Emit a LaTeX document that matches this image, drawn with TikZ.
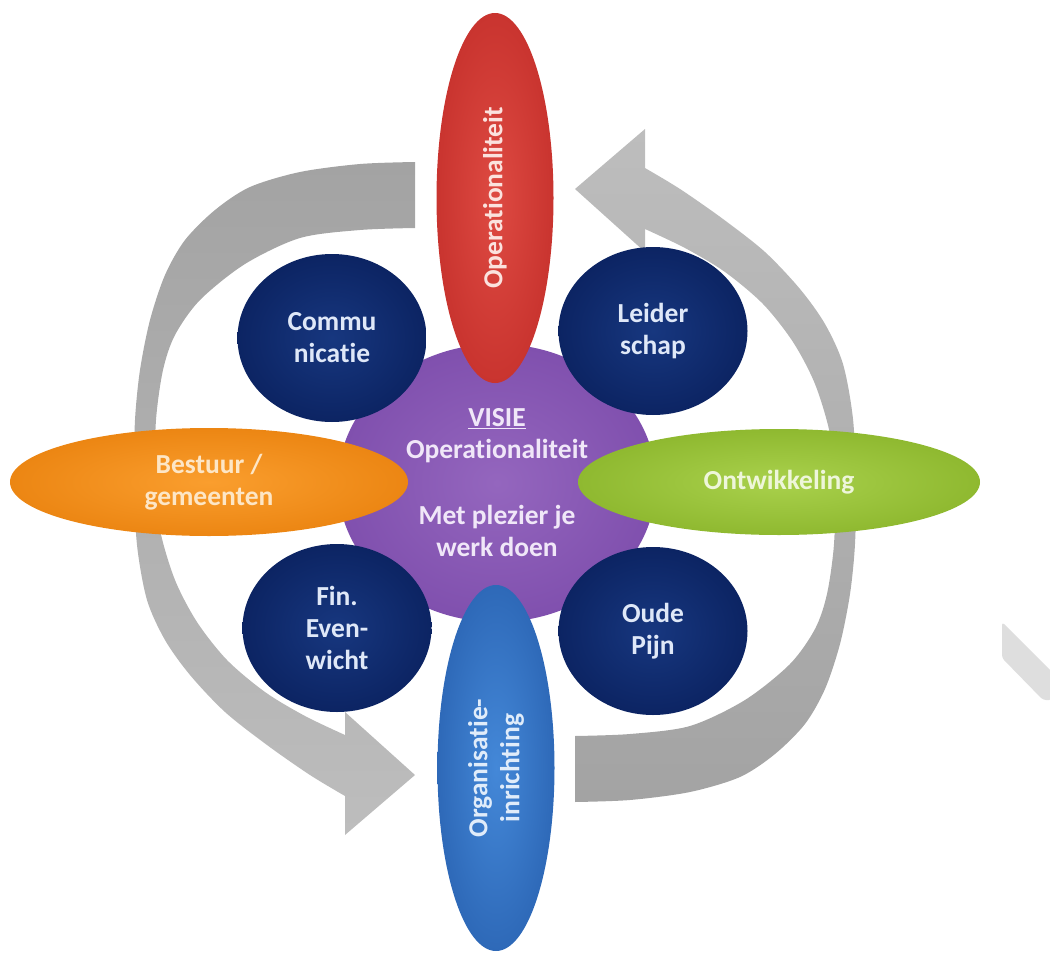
\documentclass[tikz,border=0pt]{standalone}
\usepackage{fontspec}
\setmainfont{Carlito}[Ligatures={NoCommon,NoRare}]
\usetikzlibrary{shapes.geometric}

\definecolor{redin}{HTML}{DE4A42}
\definecolor{redout}{HTML}{C9342F}
\definecolor{bluein}{HTML}{4488D8}
\definecolor{blueout}{HTML}{2E69B8}
\definecolor{orangein}{HTML}{FA9E2E}
\definecolor{orangeout}{HTML}{EC8613}
\definecolor{greenin}{HTML}{A9D14C}
\definecolor{greenout}{HTML}{8FB930}
\definecolor{purplein}{HTML}{9466BE}
\definecolor{purpleout}{HTML}{8050AE}
\definecolor{navyin}{HTML}{17377F}
\definecolor{navyout}{HTML}{0C2463}
\definecolor{arcdark}{HTML}{A3A3A3}
\definecolor{arclight}{HTML}{BDBDBD}
\definecolor{faintgray}{HTML}{DEDEDE}
\definecolor{redtext}{HTML}{FBE2DE}
\definecolor{bluetext}{HTML}{E0ECFA}
\definecolor{orangetext}{HTML}{FDE6C6}
\definecolor{greentext}{HTML}{EEF6DA}
\definecolor{purpletext}{HTML}{F0E7F8}
\definecolor{navytext}{HTML}{DFE8F8}

% one circular arrow: tail at the top, sweeping down the left side,
% head pointing right at the bottom
\newcommand\circarrowpath{%
  (415,162) -- plot[smooth] coordinates {(415,162) (360,164) (300,172) (250,187)
    (215,210) (185,240) (165,275) (150,320) (140,370) (135,420) (134,480)
    (137,545) (147,600) (165,640) (190,675) (225,712) (267,745) (310,775) (345,796)}
  -- (345,835) -- (415,775) -- (345,712) -- (345,735)
  -- plot[smooth] coordinates {(345,735) (305,716) (265,692) (227,660)
    (197,622) (175,580) (160,530) (155,480) (156,420) (163,370) (175,335)
    (200,300) (245,264) (300,238) (360,230) (415,228)}
  -- cycle}

\begin{document}
\begin{tikzpicture}[x=1pt,y=-1pt,
  lbl/.style={font=\bfseries\fontsize{27.5}{32}\selectfont, align=center,
    inner sep=0pt, outer sep=0pt},
  hub/.style={ellipse, lbl, minimum width=318pt, minimum height=278pt,
    inner color=purplein, outer color=purpleout, text=purpletext},
  bubble/.style={ellipse, lbl, minimum width=189pt, minimum height=168pt,
    inner color=navyin, outer color=navyout, text=navytext},
  upright/.style={ellipse, lbl, rotate=90, minimum width=370pt, minimum height=117pt},
  flat/.style={ellipse, lbl, minimum width=400pt, minimum height=107pt}
]
\useasboundingbox (0,0) rectangle (1050,953);

% the two grey circular arrows (darker where the tail starts)
\shade[top color=arcdark, bottom color=arclight] \circarrowpath;
\begin{scope}[rotate around={180:(495,482)}]
  \shade[top color=arclight, bottom color=arcdark] \circarrowpath;
\end{scope}

% faint grey strip at the right margin
\fill[faintgray, rounded corners=3pt] (1002,622) -- (1052,672) -- (1052,700)
  -- (1043,700) -- (1002,658) -- cycle;

% centre
\node[hub] (visie) at (497,483)
  {\underline{VISIE}\\Operationaliteit\\[34pt]Met plezier je\\werk doen};

% four dark bubbles
\node[bubble] (communicatie) at (332,338) {Commu\\nicatie};
\node[bubble] (leiderschap) at (653,331) {Leider\\schap};
\node[bubble] (financieel) at (337,628) {Fin.\\Even-\\wicht};
\node[bubble] (oudepijn) at (653,631) {Oude\\Pijn};

% four petals
\node[upright, inner color=redin, outer color=redout, text=redtext]
  (operationaliteit) at (495,198) {Operationaliteit};
\node[upright, inner color=bluein, outer color=blueout, text=bluetext,
  minimum width=366pt] (inrichting) at (496,768) {Organisatie-\\inrichting};
\node[flat, inner color=orangein, outer color=orangeout, text=orangetext,
  minimum width=398pt, minimum height=108pt] (bestuur) at (209,482)
  {Bestuur /\\gemeenten};
\node[flat, inner color=greenin, outer color=greenout, text=greentext,
  minimum width=402pt, minimum height=106pt] (ontwikkeling) at (779,482)
  {Ontwikkeling};
\end{tikzpicture}
\end{document}
